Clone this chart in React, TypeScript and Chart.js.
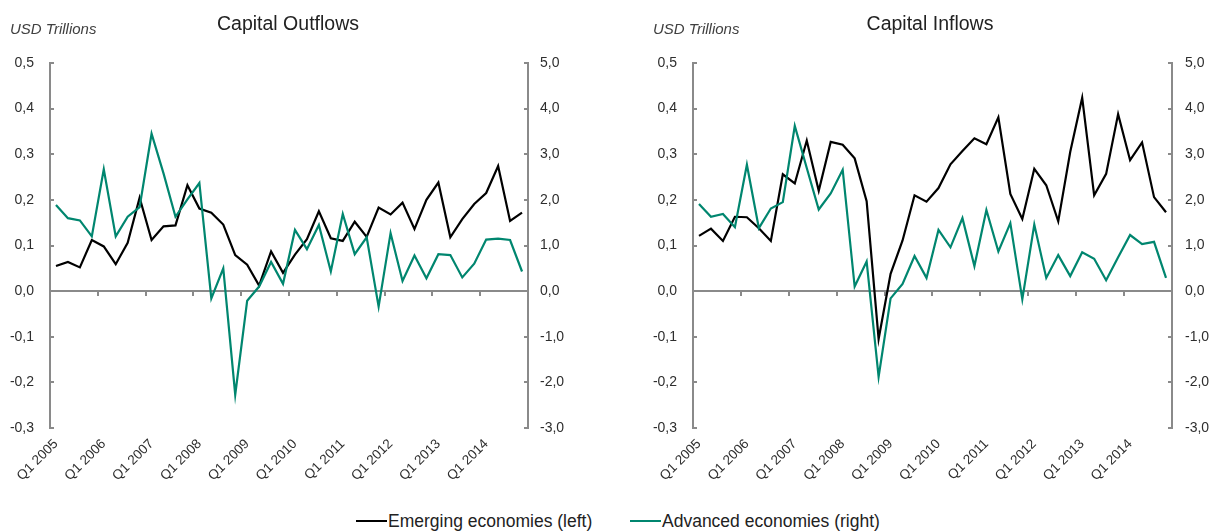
import React, { useEffect, useRef } from 'react';
import { Chart, registerables } from 'chart.js';

Chart.register(...registerables);

const years: string[] = ['2005', '2006', '2007', '2008', '2009', '2010', '2011', '2012', '2013', '2014'];
const quarterNames: string[] = ['Q1', 'Q2', 'Q3', 'Q4'];
const categories: string[] = years.flatMap((y) => quarterNames.map((q) => `${q} ${y}`));

// Capital Outflows
const outflowEmerging: number[] = [
  0.055, 0.064, 0.052, 0.112, 0.098, 0.059, 0.106, 0.205, 0.112, 0.142,
  0.144, 0.232, 0.181, 0.172, 0.146, 0.079, 0.058, 0.012, 0.087, 0.040,
  0.080, 0.114, 0.175, 0.116, 0.110, 0.152, 0.119, 0.183, 0.168, 0.194,
  0.136, 0.200, 0.238, 0.118, 0.158, 0.191, 0.215, 0.274, 0.154, 0.172,
];
const outflowAdvanced: number[] = [
  1.89, 1.60, 1.55, 1.20, 2.67, 1.20, 1.63, 1.84, 3.45, 2.58,
  1.63, 2.01, 2.37, -0.16, 0.50, -2.27, -0.21, 0.10, 0.64, 0.16,
  1.34, 0.92, 1.45, 0.43, 1.69, 0.81, 1.18, -0.34, 1.27, 0.22,
  0.78, 0.28, 0.81, 0.79, 0.30, 0.60, 1.13, 1.15, 1.12, 0.43,
];

// Capital Inflows
const inflowEmerging: number[] = [
  0.121, 0.137, 0.110, 0.163, 0.162, 0.138, 0.110, 0.256, 0.236, 0.330,
  0.220, 0.327, 0.321, 0.291, 0.197, -0.105, 0.038, 0.111, 0.210, 0.196,
  0.226, 0.278, 0.307, 0.335, 0.322, 0.381, 0.213, 0.158, 0.268, 0.232,
  0.153, 0.305, 0.424, 0.210, 0.257, 0.388, 0.287, 0.326, 0.206, 0.173,
];
const inflowAdvanced: number[] = [
  1.91, 1.63, 1.69, 1.40, 2.77, 1.38, 1.81, 1.95, 3.62, 2.70,
  1.79, 2.14, 2.66, 0.10, 0.65, -1.88, -0.16, 0.16, 0.77, 0.29,
  1.34, 0.96, 1.60, 0.55, 1.78, 0.87, 1.49, -0.18, 1.46, 0.29,
  0.79, 0.33, 0.85, 0.71, 0.24, 0.74, 1.23, 1.03, 1.08, 0.29,
];

const leftAxisTicks = { min: -0.3, max: 0.5, step: 0.1 };
const rightAxisTicks = { min: -3, max: 5, step: 1 };

const GREEN = '#00866f';
const AXIS = '#8a8a8a';
const TEXT = '#2e2e2e';
const FONT = '"Liberation Sans", Arial, sans-serif';

const CANVAS_H = 490;
const PLOT_TOP = 63;
const PLOT_BOTTOM = 428;

const fmt = (v: number | string) => {
  let n = Number(v);
  if (Math.abs(n) < 1e-9) n = 0;
  return n.toFixed(1).replace('.', ',');
};

const axisDeco = {
  id: 'axisDeco',
  beforeDatasetsDraw(chart: any) {
    const { ctx, chartArea, scales } = chart;
    const { left, right, top, bottom } = chartArea;
    const x = scales.x;
    const y = scales.y;
    const y1 = scales.y1;
    ctx.save();
    ctx.strokeStyle = AXIS;
    ctx.lineWidth = 2;
    ctx.lineCap = 'butt';
    const line = (x0: number, yA: number, x1: number, yB: number) => {
      ctx.beginPath();
      ctx.moveTo(x0, yA);
      ctx.lineTo(x1, yB);
      ctx.stroke();
    };
    line(left, top - 1, left, bottom + 1);
    line(right, top - 1, right, bottom + 1);
    y.ticks.forEach((t: any) => {
      const py = Math.round(y.getPixelForValue(t.value));
      line(left, py, left + 4, py);
    });
    y1.ticks.forEach((t: any) => {
      const py = Math.round(y1.getPixelForValue(t.value));
      line(right - 4, py, right, py);
    });
    const y0 = Math.round(y.getPixelForValue(0));
    line(left, y0, right, y0);
    const step = x.getPixelForValue(1) - x.getPixelForValue(0);
    for (let i = 0; i <= categories.length; i += 4) {
      const px = Math.round(x.getPixelForValue(i) - step / 2);
      line(px, y0, px, y0 + 5);
    }
    ctx.restore();
  },
};

type PanelProps = {
  left: number;
  width: number;
  rightAxisWidth: number;
  rightPad: number;
  emerging: number[];
  advanced: number[];
};

function Panel({ left, width, rightAxisWidth, rightPad, emerging, advanced }: PanelProps) {
  const ref = useRef<HTMLCanvasElement>(null);
  useEffect(() => {
    const tickFont = { family: FONT, size: 14 };
    const chart = new Chart(ref.current as HTMLCanvasElement, {
      type: 'line',
      data: {
        labels: categories,
        datasets: [
          {
            label: 'Advanced economies (right)',
            data: advanced,
            yAxisID: 'y1',
            borderColor: GREEN,
            backgroundColor: GREEN,
            borderWidth: 2.2,
            pointRadius: 0,
            tension: 0,
          },
          {
            label: 'Emerging economies (left)',
            data: emerging,
            yAxisID: 'y',
            borderColor: '#000000',
            backgroundColor: '#000000',
            borderWidth: 2.2,
            pointRadius: 0,
            tension: 0,
          },
        ],
      },
      options: {
        responsive: false,
        maintainAspectRatio: false,
        animation: false,
        layout: { padding: { top: PLOT_TOP, left: 0, right: 0, bottom: 0 } },
        plugins: {
          legend: { display: false },
          tooltip: { enabled: false },
          title: { display: false },
        },
        scales: {
          x: {
            type: 'category',
            offset: true,
            grid: { display: false, drawTicks: false },
            border: { display: false },
            ticks: {
              autoSkip: false,
              minRotation: 45,
              maxRotation: 45,
              padding: 8,
              color: TEXT,
              font: { family: FONT, size: 13.5 },
              callback: (_v: any, i: number) => (i % 4 === 0 ? categories[i] : ''),
            },
            afterFit: (s: any) => {
              s.height = CANVAS_H - PLOT_BOTTOM;
            },
          },
          y: {
            position: 'left',
            min: leftAxisTicks.min,
            max: leftAxisTicks.max,
            grid: { display: false, drawTicks: false },
            border: { display: false },
            ticks: {
              stepSize: leftAxisTicks.step,
              padding: 16,
              color: TEXT,
              font: tickFont,
              callback: (v: any) => fmt(v),
            },
            afterFit: (s: any) => {
              s.width = 50;
            },
          },
          y1: {
            position: 'right',
            min: rightAxisTicks.min,
            max: rightAxisTicks.max,
            grid: { display: false, drawTicks: false },
            border: { display: false },
            ticks: {
              stepSize: rightAxisTicks.step,
              padding: rightPad,
              color: TEXT,
              font: tickFont,
              callback: (v: any) => fmt(v),
            },
            afterFit: (s: any) => {
              s.width = rightAxisWidth;
            },
          },
        },
      } as any,
      plugins: [axisDeco],
    });
    return () => chart.destroy();
  }, []);
  return (
    <canvas
      ref={ref}
      width={width}
      height={CANVAS_H}
      style={{ position: 'absolute', left, top: 0, width, height: CANVAS_H }}
    />
  );
}

const textBase: React.CSSProperties = {
  position: 'absolute',
  fontFamily: FONT,
  lineHeight: 1,
  whiteSpace: 'nowrap',
  color: TEXT,
};

export default function App() {
  return (
    <div
      style={{
        position: 'absolute',
        left: 0,
        top: 0,
        width: 1213,
        height: 531,
        overflow: 'hidden',
        background: '#ffffff',
      }}
    >
      <Panel left={0} width={606} rightAxisWidth={78} rightPad={12} emerging={outflowEmerging} advanced={outflowAdvanced} />
      <Panel left={643} width={570} rightAxisWidth={41} rightPad={13} emerging={inflowEmerging} advanced={inflowAdvanced} />

      <div style={{ ...textBase, left: 10, top: 21, fontSize: 15, fontStyle: 'italic', color: '#404040' }}>USD Trillions</div>
      <div style={{ ...textBase, left: 188, width: 200, textAlign: 'center', top: 14, fontSize: 19.5, color: '#222' }}>
        Capital Outflows
      </div>
      <div style={{ ...textBase, left: 653, top: 21, fontSize: 15, fontStyle: 'italic', color: '#404040' }}>USD Trillions</div>
      <div style={{ ...textBase, left: 830, width: 200, textAlign: 'center', top: 14, fontSize: 19.5, color: '#222' }}>
        Capital Inflows
      </div>

      <div style={{ position: 'absolute', left: 356, top: 520, width: 31, height: 1.5, background: '#000' }} />
      <div style={{ ...textBase, left: 388, top: 512.5, fontSize: 17.5, color: '#222' }}>Emerging economies (left)</div>
      <div style={{ position: 'absolute', left: 630, top: 520, width: 31, height: 1.5, background: GREEN }} />
      <div style={{ ...textBase, left: 662, top: 512.5, fontSize: 17.5, color: '#222' }}>Advanced economies (right)</div>
    </div>
  );
}
